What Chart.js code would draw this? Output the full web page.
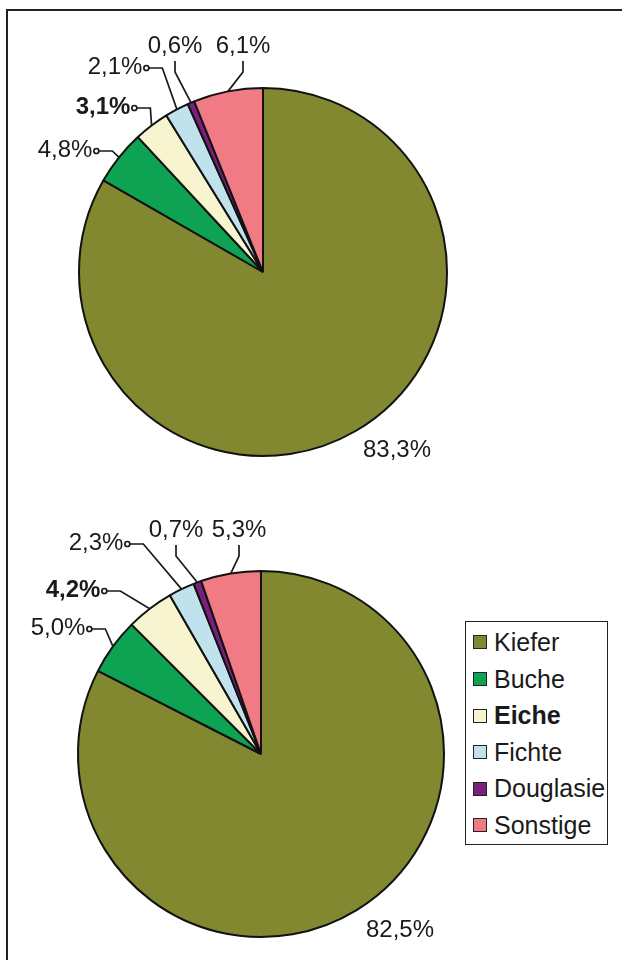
<!DOCTYPE html>
<html>
<head>
<meta charset="utf-8">
<script src="https://cdn.jsdelivr.net/npm/chart.js@4"></script>
<style>
   html, body { margin:0; padding:0; background:#fff; }
   body { width:622px; height:960px; position:relative; overflow:hidden;
          font-family:"Liberation Sans", Arial, sans-serif; }
   .frame { position:absolute; left:6px; top:9px; width:640px; height:980px;
            border-left:2px solid #222; border-top:2px solid #222; }
   .box { position:absolute; left:0; width:622px; height:480px; }
   #legend { position:absolute; left:465px; top:621px; width:141px; height:222px;
             border:1.5px solid #222; background:#fff; }
   #legend .item { position:absolute; left:7px; height:30px; line-height:30px;
                   font-size:25px; color:#1a1a1a; white-space:nowrap; }
   #legend .sw { display:inline-block; width:12px; height:12px; border:1.5px solid #222;
                 margin-right:7px; vertical-align:middle; position:relative; top:-2px; }
</style>
</head>
<body>
<div class="frame"></div>
<div class="box" style="top:0"><canvas id="pieTop"></canvas></div>
<div class="box" style="top:480px"><canvas id="pieBottom"></canvas></div>
<div id="legend"></div>

<script>

/* data */
const categories = ["Kiefer","Buche","Eiche","Fichte","Douglasie","Sonstige"];
const valuesTop = [83.3, 4.8, 3.1, 2.1, 0.6, 6.1];
const valuesBottom = [82.5, 5.0, 4.2, 2.3, 0.7, 5.3];
const sliceColors = ["#81882f","#0ea352","#f7f4cf","#bfe2ec","#7a1f7e","#f07b84"];
const boldCategory = "Eiche";

/* label placement relative to pie centre: [dx, dy, leader type] */
const labelPosTop = [
   [134, 178, "none"],
   [-198, -122, "side"],
   [-160, -165, "side"],
   [-148, -205, "side"],
   [-88, -226, "top"],
   [-20, -226, "top"]
];
const labelPosBottom = [
   [139, 176, "none"],
   [-203, -126, "side"],
   [-188, -164, "side"],
   [-165, -211, "side"],
   [-85, -224, "top"],
   [-22, -224, "top"]
];

function fmt(v){
   return v.toFixed(1).replace(".",",") + "%";
}

const leaderPlugin = {
   id: "leaders",
   afterDatasetsDraw(chart, args, opts){
      let ctx = chart.ctx;
      let meta = chart.getDatasetMeta(0);
      let values = chart.data.datasets[0].data;
      let pos = opts.positions;

      ctx.save();
      ctx.strokeStyle = "#1a1a1a";
      ctx.fillStyle = "#1a1a1a";
      ctx.lineWidth = 1.7;
      ctx.textBaseline = "middle";
      ctx.textAlign = "center";

      meta.data.forEach((arc, i) => {
         let cx = arc.x, cy = arc.y;
         let a = (arc.startAngle + arc.endAngle) / 2;
         let r = arc.outerRadius;
         let ax = cx + r * Math.cos(a);
         let ay = cy + r * Math.sin(a);

         let tx = cx + pos[i][0];
         let ty = cy + pos[i][1];
         let bold = chart.data.labels[i] === boldCategory;
         ctx.font = (bold ? "bold " : "") + "24px 'Liberation Sans', Arial, sans-serif";
         let txt = fmt(values[i]);
         let w = ctx.measureText(txt).width;

         ctx.fillText(txt, tx, ty);

         if(pos[i][2] === "side"){
            let x0 = tx + w/2 + 4;
            ctx.beginPath();
            ctx.arc(x0, ty + 1, 2.5, 0, Math.PI*2);
            ctx.stroke();
            ctx.beginPath();
            ctx.moveTo(x0 + 2.5, ty + 1);
            ctx.lineTo(x0 + 16, ty + 1);
            ctx.lineTo(ax, ay);
            ctx.stroke();
         } else if(pos[i][2] === "top"){
            ctx.beginPath();
            ctx.moveTo(tx, ty + 15);
            ctx.lineTo(tx, ty + 26);
            ctx.lineTo(ax, ay);
            ctx.stroke();
         }
      });

      ctx.restore();
   }
};

function makePie(id, values, positions, padding){
   return new Chart(document.getElementById(id), {
      type: "pie",
      data: {
         labels: categories,
         datasets: [{
            data: values,
            backgroundColor: sliceColors,
            borderColor: "#111",
            borderWidth: 2
         }]
      },
      options: {
         responsive: true,
         maintainAspectRatio: false,
         animation: false,
         layout: { padding: padding },
         plugins: {
            legend: { display: false },
            tooltip: { enabled: false },
            leaders: { positions: positions }
         }
      },
      plugins: [leaderPlugin]
   });
}

makePie("pieTop", valuesTop, labelPosTop,
   { left: 78, right: 174, top: 87, bottom: 23 });

makePie("pieBottom", valuesBottom, labelPosBottom,
   { left: 77, right: 177, top: 90, bottom: 22 });

/* html legend */
let legend = document.getElementById("legend");
categories.forEach((name, i) => {
   let item = document.createElement("div");
   item.className = "item";
   item.style.top = (5 + i * 36.6) + "px";
   let sw = document.createElement("span");
   sw.className = "sw";
   sw.style.background = sliceColors[i];
   item.appendChild(sw);
   let t = document.createElement("span");
   t.textContent = name;
   if(name === boldCategory) t.style.fontWeight = "bold";
   item.appendChild(t);
   legend.appendChild(item);
});

</script>
</body>
</html>
